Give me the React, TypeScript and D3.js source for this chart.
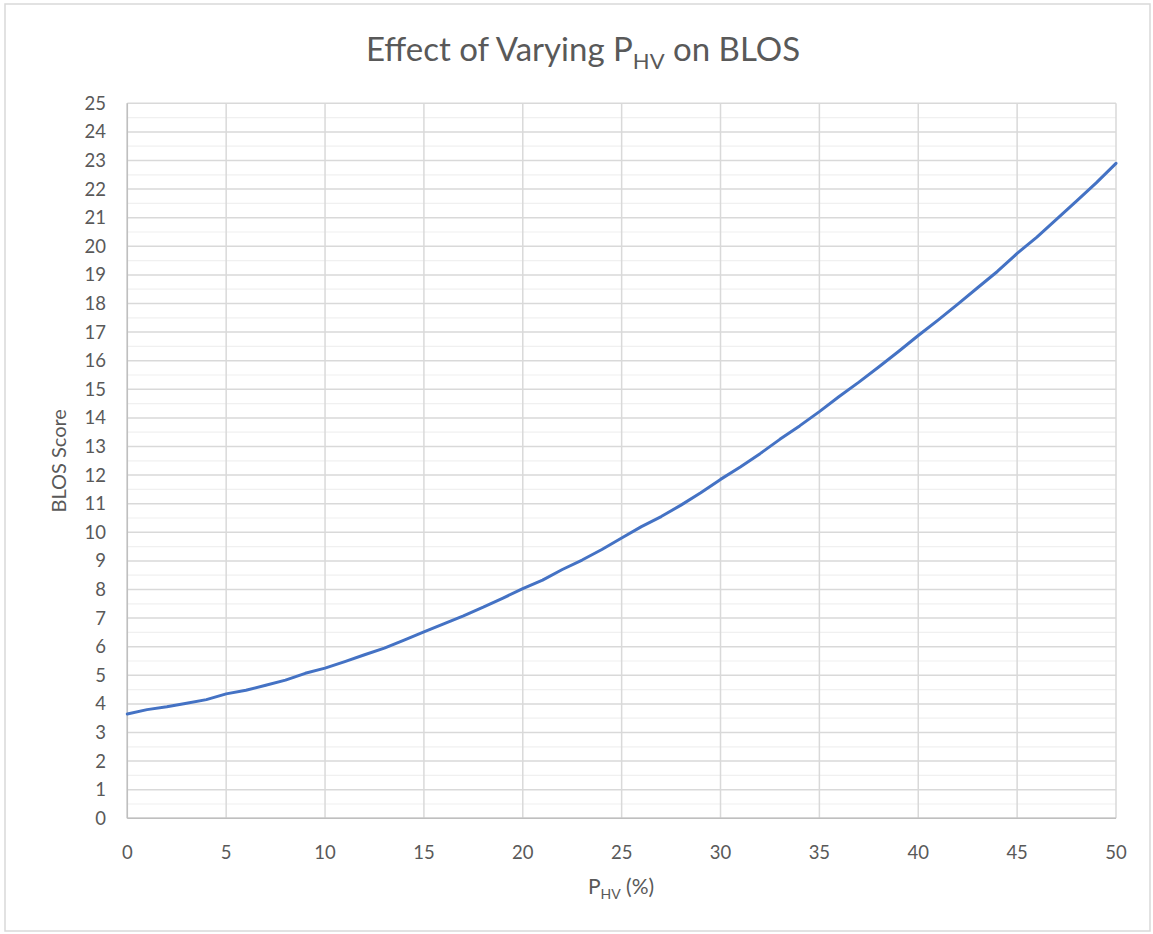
import React from "react";
import * as d3 from "d3";

const phv: number[] = [
  0, 1, 2, 3, 4, 5, 6, 7, 8, 9, 10, 11, 12, 13, 14, 15, 16, 17, 18, 19, 20,
  21, 22, 23, 24, 25, 26, 27, 28, 29, 30, 31, 32, 33, 34, 35, 36, 37, 38, 39, 40,
  41, 42, 43, 44, 45, 46, 47, 48, 49, 50,
];
const blos: number[] = [
  3.65, 3.8, 3.9, 4.02, 4.15, 4.35, 4.48, 4.65, 4.83, 5.07, 5.25,
  5.48, 5.72, 5.95, 6.23, 6.52, 6.8, 7.08, 7.38, 7.7, 8.03,
  8.33, 8.7, 9.03, 9.4, 9.8, 10.2, 10.55, 10.95, 11.38, 11.85,
  12.28, 12.75, 13.25, 13.72, 14.22, 14.75, 15.25, 15.78, 16.32, 16.88,
  17.42, 17.98, 18.55, 19.12, 19.75, 20.32, 20.95, 21.58, 22.22, 22.9,
];
const xTicks: number[] = [0, 5, 10, 15, 20, 25, 30, 35, 40, 45, 50];
const yTicks: number[] = d3.range(0, 26);
const yMinor: number[] = d3.range(0.5, 25, 1);

const W = 1153;
const H = 934;
const left = 127.3;
const right = 1116;
const top = 103.3;
const bottom = 818.3;
const FONT = "Lato, 'Open Sans', sans-serif";
const TXT = "#595959";

export default function App() {
  const x = d3.scaleLinear().domain([0, 50]).range([left, right]);
  const y = d3.scaleLinear().domain([0, 25]).range([bottom, top]);
  const line = d3
    .line<number>()
    .x((_, i) => x(phv[i]))
    .y((d) => y(d));

  return (
    <svg
      width={W}
      height={H}
      style={{ position: "absolute", left: 0, top: 0, background: "#fff" }}
      fontFamily={FONT}
    >
      <rect x={0} y={0} width={W} height={H} fill="#fff" />
      <rect x={5} y={4} width={1145} height={927} fill="none" stroke="#d9d9d9" strokeWidth={1.5} />

      {yMinor.map((v) => (
        <line key={"m" + v} x1={left} x2={right} y1={y(v)} y2={y(v)} stroke="#f0f0f0" strokeWidth={1.2} />
      ))}
      {yTicks.map((v) => (
        <line key={"h" + v} x1={left} x2={right} y1={y(v)} y2={y(v)} stroke="#d9d9d9" strokeWidth={1.5} />
      ))}
      {xTicks.map((v) => (
        <line key={"v" + v} x1={x(v)} x2={x(v)} y1={top} y2={bottom} stroke="#d9d9d9" strokeWidth={1.5} />
      ))}
      <line x1={left} x2={left} y1={top} y2={bottom} stroke="#bfbfbf" strokeWidth={1.5} />
      <line x1={left} x2={right} y1={bottom} y2={bottom} stroke="#bfbfbf" strokeWidth={1.5} />

      <path d={line(blos) || ""} fill="none" stroke="#4472C4" strokeWidth={3} strokeLinejoin="round" strokeLinecap="round" />

      {yTicks.map((v) => (
        <text key={"yl" + v} x={106} y={y(v)} dy="0.35em" textAnchor="end" fontSize={18.5} fill={TXT}>
          {v}
        </text>
      ))}
      {xTicks.map((v) => (
        <text key={"xl" + v} x={x(v)} y={859} textAnchor="middle" fontSize={18.5} fill={TXT}>
          {v}
        </text>
      ))}

      <text x={583} y={61} textAnchor="middle" fontSize={33} fill={TXT}>
        Effect of Varying P
        <tspan fontSize={22} dy={8}>HV</tspan>
        <tspan dy={-8}> on BLOS</tspan>
      </text>

      <text
        transform={`translate(66, ${(top + bottom) / 2}) rotate(-90)`}
        textAnchor="middle"
        fontSize={20}
        fill={TXT}
      >
        BLOS Score
      </text>

      <text x={621} y={894} textAnchor="middle" fontSize={21} fill={TXT}>
        P
        <tspan fontSize={14} dy={5}>HV</tspan>
        <tspan dy={-5}> (%)</tspan>
      </text>
    </svg>
  );
}
